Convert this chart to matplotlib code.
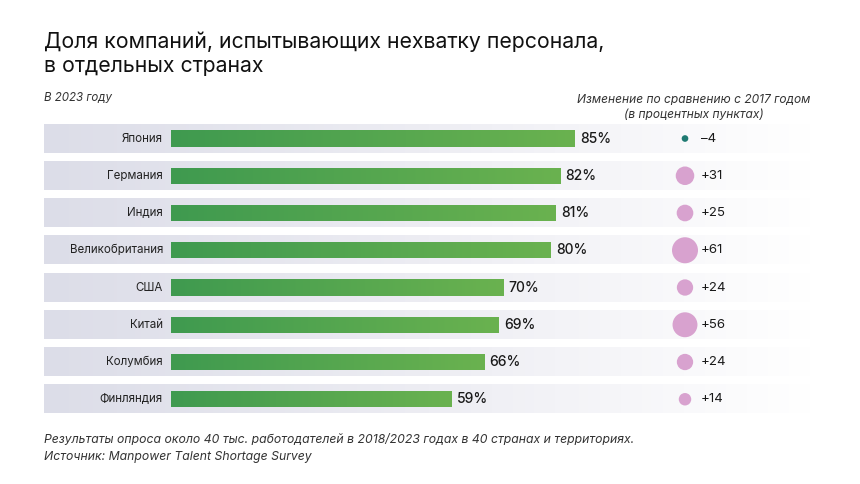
import matplotlib.pyplot as plt
import matplotlib.colors as mcolors
import numpy as np

plt.rcParams['font.family'] = ['Inter', 'DejaVu Sans']

countries = ['Япония', 'Германия', 'Индия', 'Великобритания', 'США', 'Китай', 'Колумбия', 'Финляндия']
share_2023 = [85, 82, 81, 80, 70, 69, 66, 59]
change_pp = [-4, 31, 25, 61, 24, 56, 24, 14]

W, H = 860, 484
fig = plt.figure(figsize=(W / 100, H / 100), dpi=100)
fig.patch.set_facecolor('white')

# axes placed in pixels: left 44px, right 815px, rows 121..419px
ax_left, ax_right = 44, 815
ax_top, ax_bottom = 121, 419
ax = fig.add_axes([ax_left / W, 1 - ax_bottom / H, (ax_right - ax_left) / W, (ax_bottom - ax_top) / H])
px_per_unit = 4.75
x0 = -(171 - ax_left) / px_per_unit
x1 = (ax_right - 171) / px_per_unit
n = len(countries)
ax.set_xlim(x0, x1)
ax.set_ylim(n - 0.5 + 0.03, -0.5 + 0.03)
ax.axis('off')

# row backgrounds: grey-blue fading to white
bg_cmap = mcolors.LinearSegmentedColormap.from_list('bg', ['#dcdde8', '#ededf3', '#ffffff'])
grad = np.linspace(0, 1, 256).reshape(1, -1)
row_h = 0.76
for i in range(n):
    ax.imshow(grad, extent=(x0, x1, i + row_h / 2, i - row_h / 2), cmap=bg_cmap,
              aspect='auto', zorder=1, interpolation='bicubic')

# bars with green gradient
bar_cmap = mcolors.LinearSegmentedColormap.from_list('bar', ['#3f9a50', '#6ab24f'])
bars = ax.barh(range(n), share_2023, height=0.43, color='#55a650', zorder=2)
for b in bars:
    xb, yb = b.get_x(), b.get_y()
    im = ax.imshow(grad, extent=(xb, xb + b.get_width(), yb + b.get_height(), yb),
                   cmap=bar_cmap, aspect='auto', zorder=3)
    im.set_clip_path(b)

for i, (c, v) in enumerate(zip(countries, share_2023)):
    ax.text(-1.7, i, c, ha='right', va='center', fontsize=8.3, color='#222222', zorder=4)
    ax.text(v + 1.1, i, f'{v}%', ha='left', va='center', fontsize=10, fontweight='medium',
            color='#1a1a1a', zorder=4)

# change circles, area ~ change
cx = (685 - 171) / px_per_unit
sizes = [abs(c) * 5.75 for c in change_pp]
colors = ['#1f7a72' if c < 0 else '#d8a2cf' for c in change_pp]
ax.scatter([cx] * n, range(n), s=sizes, c=colors, zorder=4, linewidths=0)
for i, c in enumerate(change_pp):
    lab = f'+{c}' if c > 0 else f'–{abs(c)}'
    ax.text(cx + 3.3, i, lab, ha='left', va='center', fontsize=9.5, color='#1a1a1a', zorder=4)

# texts
fig.text(44 / W, 1 - 42 / H, 'Доля компаний, испытывающих нехватку персонала,', fontsize=15.3,
         color='#111111', va='center', ha='left')
fig.text(44 / W, 1 - 66 / H, 'в отдельных странах', fontsize=15.3, color='#111111', va='center', ha='left')
fig.text(44 / W, 1 - 98 / H, 'В 2023 году', fontsize=8.3, style='italic', color='#333333', va='center')
fig.text(694 / W, 1 - 100 / H, 'Изменение по сравнению с 2017 годом', fontsize=8.6, style='italic',
         color='#333333', va='center', ha='center')
fig.text(694 / W, 1 - 115 / H, '(в процентных пунктах)', fontsize=8.6, style='italic',
         color='#333333', va='center', ha='center')
fig.text(44 / W, 1 - 440 / H,
         'Результаты опроса около 40 тыс. работодателей в 2018/2023 годах в 40 странах и территориях.',
         fontsize=8.8, style='italic', color='#333333', va='center')
fig.text(44 / W, 1 - 457 / H, 'Источник: Manpower Talent Shortage Survey', fontsize=8.8, style='italic',
         color='#333333', va='center')

fig.savefig('out.png', dpi=100, facecolor='white')
